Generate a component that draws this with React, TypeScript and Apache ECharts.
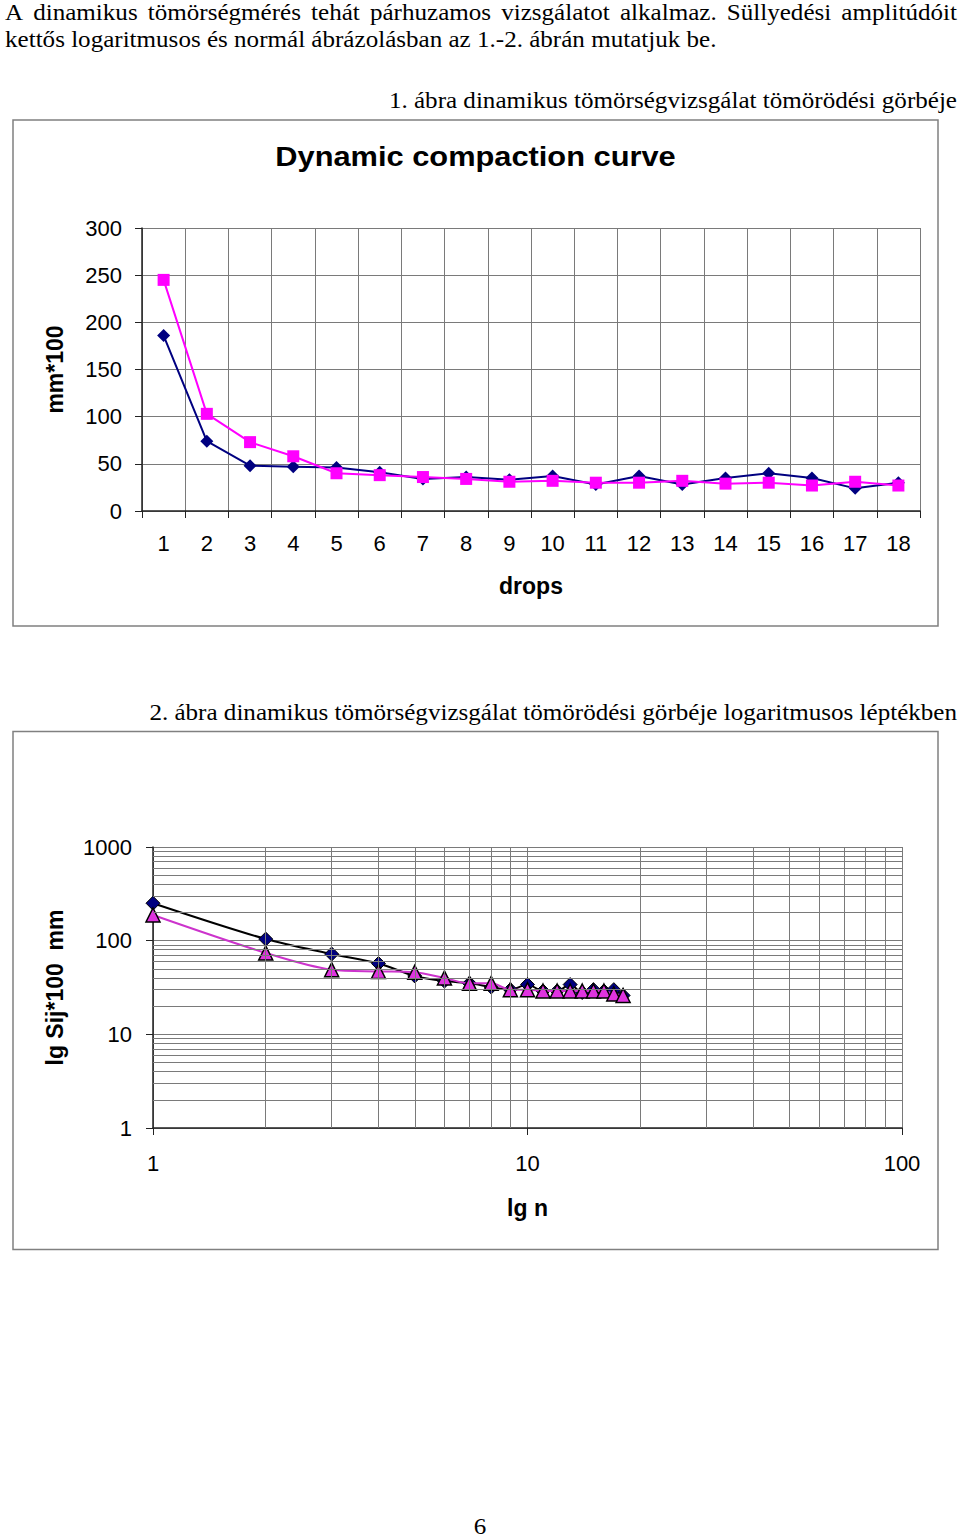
import React, { useEffect, useRef } from "react";
import * as echarts from "echarts";

// ---- data ----
const drops = [1, 2, 3, 4, 5, 6, 7, 8, 9, 10, 11, 12, 13, 14, 15, 16, 17, 18];
// figure 1 (linear)
const seriesNavy = [186, 74, 48, 47, 46, 41, 34, 36, 33, 37, 28, 37, 28, 35, 40, 35, 24, 30];
const seriesPink = [245, 103, 73, 58, 40, 38, 36, 34, 31, 32, 30, 30, 32, 29, 30, 27, 31, 27];
// figure 2 (log-log)
const logSeriesDiamond = [251, 104, 72, 57, 42, 37, 35, 32, 30, 34, 29, 29, 34, 28, 30, 29, 30, 26];
const logSeriesTriangle = [188, 74, 49, 47, 46, 40, 35, 35, 30, 30, 29, 29, 29, 29, 29, 29, 27, 26];
const linearMin = 0;
const linearMax = 300;
const linearStep = 50;
const logXRange = [1, 100];
const logYRange = [1, 1000];
const minorGridX = [2, 3, 4, 5, 6, 7, 8, 9, 20, 30, 40, 50, 60, 70, 80, 90];
const minorGridY = [2, 3, 4, 5, 6, 7, 8, 9, 20, 30, 40, 50, 60, 70, 80, 90, 200, 300, 400, 500, 600, 700, 800, 900];

// ---- texts ----
const chartTitle = "Dynamic compaction curve";
const paragraphLine1 = ["A", "dinamikus", "tömörségmérés", "tehát", "párhuzamos", "vizsgálatot", "alkalmaz.", "Süllyedési", "amplitúdóit"];
const paragraphLine2 = "kettős logaritmusos és normál ábrázolásban az 1.-2. ábrán mutatjuk be.";
const caption1 = "1. ábra dinamikus tömörségvizsgálat tömörödési görbéje";
const caption2 = "2. ábra dinamikus tömörségvizsgálat tömörödési görbéje logaritmusos léptékben";
const pageNumber = "6";

// ---- layout ----
const SANS = "Liberation Sans";
const SERIF = "Liberation Serif";
const SERIF_SIZE = 22.6;
const SERIF_SCALE = 1.11;
const TEXT_LEFT = 5;
const TEXT_RIGHT = 957;
const GRID_COLOR = "#7a7a7a";
const AXIS_COLOR = "#222";

function justifiedPositions(words: string[]): number[] {
  const canvas = document.createElement("canvas");
  const ctx = canvas.getContext("2d");
  const widths = words.map((w) => {
    if (!ctx) return w.length * SERIF_SIZE * 0.45 * SERIF_SCALE;
    ctx.font = `${SERIF_SIZE}px "${SERIF}"`;
    return ctx.measureText(w).width * SERIF_SCALE;
  });
  const total = widths.reduce((a, b) => a + b, 0);
  const gap = (TEXT_RIGHT - TEXT_LEFT - total) / (words.length - 1);
  const xs: number[] = [];
  let x = TEXT_LEFT;
  widths.forEach((w) => {
    xs.push(x);
    x += w + gap;
  });
  return xs;
}

function buildOption() {
  const serif = { fontFamily: SERIF, fontSize: SERIF_SIZE, fill: "#000" };
  const texts: any[] = [];
  const xs = justifiedPositions(paragraphLine1);
  paragraphLine1.forEach((w, i) => {
    texts.push({
      type: "text",
      x: xs[i],
      y: 12.4,
      scaleX: SERIF_SCALE,
      style: { ...serif, text: w, align: "left", verticalAlign: "middle" },
    });
  });
  texts.push({
    type: "text",
    x: TEXT_LEFT,
    y: 39.7,
    scaleX: SERIF_SCALE,
    style: { ...serif, text: paragraphLine2, align: "left", verticalAlign: "middle" },
  });
  texts.push({
    type: "text",
    x: TEXT_RIGHT,
    y: 100.4,
    scaleX: SERIF_SCALE,
    style: { ...serif, text: caption1, align: "right", verticalAlign: "middle" },
  });
  texts.push({
    type: "text",
    x: TEXT_RIGHT,
    y: 712.4,
    scaleX: SERIF_SCALE,
    style: { ...serif, text: caption2, align: "right", verticalAlign: "middle" },
  });
  texts.push({
    type: "text",
    x: 480,
    y: 1526,
    scaleX: SERIF_SCALE,
    style: { ...serif, text: pageNumber, align: "center", verticalAlign: "middle" },
  });
  texts.push({
    type: "text",
    x: 475.5,
    y: 156,
    scaleX: 1.1,
    style: {
      text: chartTitle,
      fontFamily: SANS,
      fontSize: 28,
      fontWeight: "bold",
      fill: "#000",
      align: "center",
      verticalAlign: "middle",
    },
  });
  const frames = [
    { type: "rect", shape: { x: 13, y: 120, width: 925, height: 506 }, style: { fill: "none", stroke: "#808080", lineWidth: 1.5 } },
    { type: "rect", shape: { x: 13, y: 731.5, width: 925, height: 518 }, style: { fill: "none", stroke: "#808080", lineWidth: 1.5 } },
  ];

  const labelStyle = { fontFamily: SANS, fontSize: 22, color: "#000" };
  const nameStyle = { fontFamily: SANS, fontSize: 23, fontWeight: "bold", color: "#000" };
  const axisLine = { show: true, onZero: false, lineStyle: { color: AXIS_COLOR, width: 1.5 } };
  const axisTick = { show: true, length: 7, lineStyle: { color: AXIS_COLOR, width: 1 } };
  const splitLine = { show: true, lineStyle: { color: GRID_COLOR, width: 1, type: "solid" } };
  const plainNumber = (v: number) => String(v);

  return {
    animation: false,
    backgroundColor: "#fff",
    graphic: { elements: [...frames, ...texts] },
    grid: [
      { left: 142, top: 228, width: 778, height: 283, containLabel: false },
      { left: 153, top: 847, width: 749, height: 281, containLabel: false },
    ],
    xAxis: [
      {
        type: "category",
        gridIndex: 0,
        data: drops.map(String),
        boundaryGap: true,
        axisLine,
        axisTick: { ...axisTick, interval: 0 },
        axisLabel: { ...labelStyle, interval: 0, margin: 21 },
        splitLine: { ...splitLine, interval: 0 },
        name: "drops",
        nameLocation: "middle",
        nameGap: 63,
        nameTextStyle: nameStyle,
      },
      {
        type: "log",
        logBase: 10,
        gridIndex: 1,
        min: logXRange[0],
        max: logXRange[1],
        axisLine,
        axisTick,
        axisLabel: { ...labelStyle, margin: 24, formatter: plainNumber },
        splitLine,
        name: "lg n",
        nameLocation: "middle",
        nameGap: 68,
        nameTextStyle: nameStyle,
      },
    ],
    yAxis: [
      {
        type: "value",
        gridIndex: 0,
        min: linearMin,
        max: linearMax,
        interval: linearStep,
        axisLine,
        axisTick,
        axisLabel: { ...labelStyle, margin: 20 },
        splitLine,
        name: "mm*100",
        nameLocation: "middle",
        nameRotate: 90,
        nameGap: 76,
        nameTextStyle: nameStyle,
      },
      {
        type: "log",
        logBase: 10,
        gridIndex: 1,
        min: logYRange[0],
        max: logYRange[1],
        axisLine,
        axisTick,
        axisLabel: { ...labelStyle, margin: 21, formatter: plainNumber },
        splitLine,
        name: "lg Sij*100  mm",
        nameLocation: "middle",
        nameRotate: 90,
        nameGap: 87,
        nameTextStyle: nameStyle,
      },
    ],
    series: [
      {
        type: "line",
        xAxisIndex: 1,
        yAxisIndex: 1,
        data: [],
        silent: true,
        z: 1,
        markLine: {
          silent: true,
          symbol: ["none", "none"],
          label: { show: false },
          emphasis: { disabled: true },
          lineStyle: { color: GRID_COLOR, width: 1, type: "solid" },
          data: [
            ...minorGridX.map((v) => ({ xAxis: v })),
            ...minorGridY.map((v) => ({ yAxis: v })),
          ],
        },
      },
      {
        name: "navy",
        type: "line",
        xAxisIndex: 0,
        yAxisIndex: 0,
        data: seriesNavy,
        symbol: "diamond",
        symbolSize: 13,
        z: 3,
        lineStyle: { color: "#000080", width: 2 },
        itemStyle: { color: "#000080" },
      },
      {
        name: "pink",
        type: "line",
        xAxisIndex: 0,
        yAxisIndex: 0,
        data: seriesPink,
        symbol: "rect",
        symbolSize: 12,
        z: 4,
        lineStyle: { color: "#ff00ff", width: 2 },
        itemStyle: { color: "#ff00ff" },
      },
      {
        name: "log-diamond",
        type: "line",
        xAxisIndex: 1,
        yAxisIndex: 1,
        data: drops.map((n, i) => [n, logSeriesDiamond[i]]),
        smooth: 0.3,
        symbol: "diamond",
        symbolSize: 14,
        z: 3,
        lineStyle: { color: "#000000", width: 2 },
        itemStyle: { color: "#000080", borderColor: "#000", borderWidth: 1 },
      },
      {
        name: "log-triangle",
        type: "line",
        xAxisIndex: 1,
        yAxisIndex: 1,
        data: drops.map((n, i) => [n, logSeriesTriangle[i]]),
        smooth: 0.3,
        symbol: "triangle",
        symbolSize: 14,
        z: 4,
        lineStyle: { color: "#cc33cc", width: 2 },
        itemStyle: { color: "#e033e0", borderColor: "#000", borderWidth: 1.5 },
      },
    ],
  };
}

export default function App() {
  const ref = useRef<HTMLDivElement>(null);
  useEffect(() => {
    if (!ref.current) return;
    const chart = echarts.init(ref.current, null, { renderer: "svg" });
    chart.setOption(buildOption() as any);
    return () => chart.dispose();
  }, []);
  return (
    <div
      ref={ref}
      style={{ position: "absolute", left: 0, top: 0, width: 960, height: 1537, background: "#fff" }}
    />
  );
}
